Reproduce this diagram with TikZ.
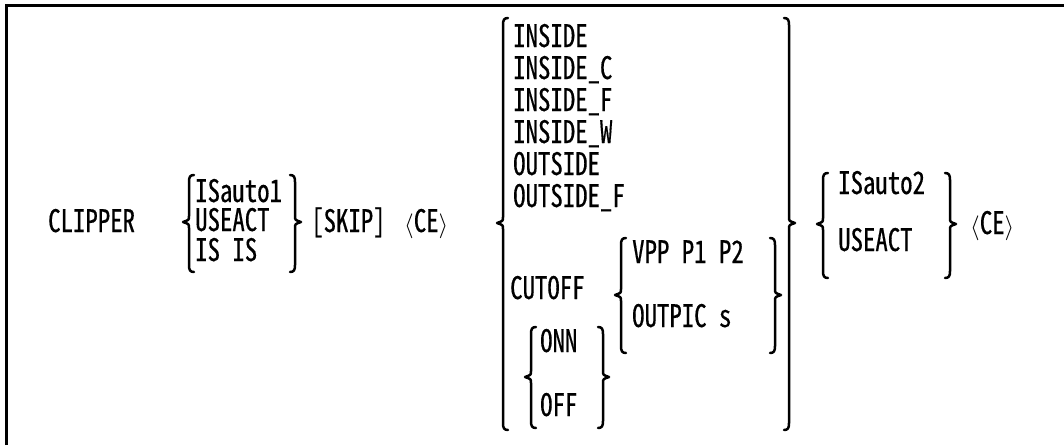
\documentclass[tikz,border=0pt]{standalone}
\usepackage{fontspec}
\newfontfamily\jp[RawFeature=+hwid,FakeStretch=0.8,FakeBold=0.4]{Noto Sans CJK JP}
\tikzset{
  txt/.style={font=\jp\fontsize{31}{35}\selectfont, anchor=base west, inner sep=0pt},
  brc/.style={line width=2.5pt, line cap=round, line join=round},
  frm/.style={line width=3pt}
}
% left brace: x, top, mid, bottom
\newcommand\LBr[4]{%
  \draw[brc] (#1+5,#2) .. controls (#1+1,#2) and (#1,#2+2) .. (#1,#2+7)
    -- (#1,#3-6) .. controls (#1,#3-2) .. (#1-6,#3)
    .. controls (#1,#3+2) .. (#1,#3+6) -- (#1,#4-7)
    .. controls (#1,#4-2) and (#1+1,#4) .. (#1+5,#4);}
\newcommand\RBr[4]{%
  \draw[brc] (#1-5,#2) .. controls (#1-1,#2) and (#1,#2+2) .. (#1,#2+7)
    -- (#1,#3-6) .. controls (#1,#3-2) .. (#1+6,#3)
    .. controls (#1,#3+2) .. (#1,#3+6) -- (#1,#4-7)
    .. controls (#1,#4-2) and (#1-1,#4) .. (#1-5,#4);}
\begin{document}
\begin{tikzpicture}[x=1pt,y=-1pt]
\useasboundingbox (0,0) rectangle (1064,445);
\draw[frm] (6,445) -- (6,5) -- (1064,5);
% group 1
\node[txt] (clipper) at (48,232) {CLIPPER};
\LBr{189}{175}{222}{272}
\node[txt] (isauto1) at (195,202) {ISauto1};
\node[txt] (useact1) at (195,231) {USEACT};
\node[txt] (isis) at (195,261) {IS IS};
\RBr{295}{175}{222}{272}
\node[txt] (skip) at (311,232) {[SKIP]};
\node[txt] (ce1) at (404,232) {$\langle$CE$\rangle$};
% big group
\LBr{503}{18}{223}{430}
\node[txt] (inside) at (513,47) {INSIDE};
\node[txt] (insidec) at (513,79) {INSIDE\_C};
\node[txt] (insidef) at (513,111) {INSIDE\_F};
\node[txt] (insidew) at (513,143) {INSIDE\_W};
\node[txt] (outside) at (513,175) {OUTSIDE};
\node[txt] (outsidef) at (513,207) {OUTSIDE\_F};
\node[txt] (cutoff) at (510,299) {CUTOFF};
\LBr{621}{238}{295}{353}
\node[txt] (vpp) at (632,263) {VPP P1 P2};
\node[txt] (outpic) at (632,327) {OUTPIC s};
\RBr{775}{238}{295}{353}
\LBr{531}{327}{377}{428}
\node[txt] (onn) at (540,352) {ONN};
\node[txt] (off) at (540,416) {OFF};
\RBr{603}{327}{377}{428}
\RBr{789}{18}{223}{430}
% group 3
\LBr{823}{173}{224}{278}
\node[txt] (isauto2) at (838,194) {ISauto2};
\node[txt] (useact2) at (838,251) {USEACT};
\RBr{950}{173}{224}{278}
\node[txt] (ce2) at (970,234) {$\langle$CE$\rangle$};
\end{tikzpicture}
\end{document}
